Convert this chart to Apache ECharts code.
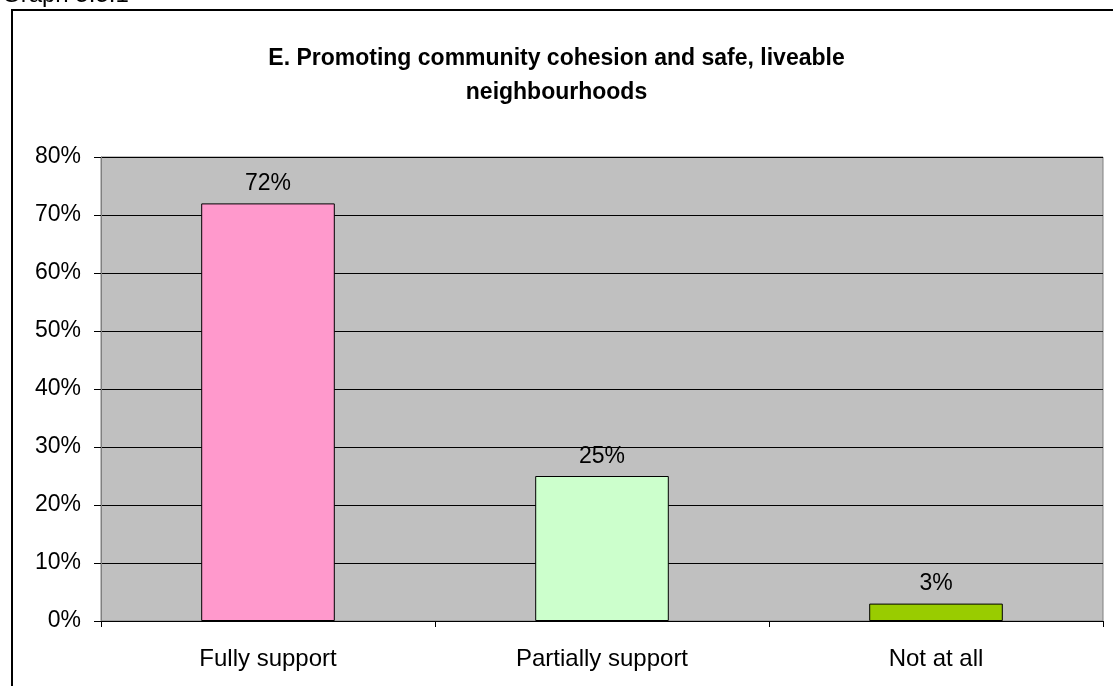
<!DOCTYPE html>
<html>
<head>
<meta charset="utf-8">
<script src="https://cdn.jsdelivr.net/npm/echarts@6/dist/echarts.min.js"></script>
<style>
  html, body { margin: 0; padding: 0; background: #fff; }
  #chart { width: 1113px; height: 686px; }
</style>
</head>
<body>
<div id="chart"></div>
<script>
// Survey responses for section E
const categories = ['Fully support', 'Partially support', 'Not at all'];
const shares = [72, 25, 3];
const barColors = ['#ff99cc', '#ccffcc', '#99cc00'];
const yTicks = [0, 10, 20, 30, 40, 50, 60, 70, 80];

const titleText = 'E. Promoting community cohesion and safe, liveable\nneighbourhoods';
const captionText = 'Graph 5.5.1';

const font = 'Arial, "Liberation Sans", sans-serif';

const chart = echarts.init(document.getElementById('chart'), null, { renderer: 'canvas' });

chart.setOption({
  animation: false,
  backgroundColor: '#ffffff',
  title: {
    text: titleText,
    left: 'center',
    top: 37,
    textStyle: { fontFamily: font, fontSize: 23, fontWeight: 'bold', color: '#000', lineHeight: 34 }
  },
  graphic: [
    {
      type: 'text',
      left: 2,
      top: -17,
      style: { text: captionText, font: '24px ' + font, fill: '#000' }
    },
    {
      type: 'rect',
      shape: { x: 12, y: 10, width: 1130, height: 700 },
      style: { fill: 'none', stroke: '#000', lineWidth: 2 },
      z: 10
    }
  ],
  grid: {
    left: 101, right: 10, top: 157, bottom: 65,
    show: true,
    backgroundColor: '#c0c0c0',
    borderColor: '#808080',
    borderWidth: 1
  },
  xAxis: {
    type: 'category',
    data: categories,
    axisLine: { lineStyle: { color: '#000', width: 1 } },
    axisTick: { show: true, length: 6, lineStyle: { color: '#000' } },
    axisLabel: { fontFamily: font, fontSize: 24, color: '#000', margin: 26 }
  },
  yAxis: {
    type: 'value',
    min: yTicks[0],
    max: yTicks[yTicks.length - 1],
    interval: 10,
    axisLine: { show: true, lineStyle: { color: '#808080' } },
    axisTick: { show: true, length: 7, lineStyle: { color: '#000' } },
    axisLabel: { fontFamily: font, fontSize: 23, color: '#000', margin: 20, formatter: '{value}%' },
    splitLine: { show: true, lineStyle: { color: '#000', width: 1 } }
  },
  series: [{
    type: 'bar',
    data: shares.map((v, i) => ({ value: v, itemStyle: { color: barColors[i] } })),
    barWidth: '40%',
    itemStyle: { borderColor: '#000', borderWidth: 1 },
    label: {
      show: true,
      position: 'top',
      distance: 8,
      formatter: '{c}%',
      fontFamily: font,
      fontSize: 23,
      color: '#000'
    }
  }]
});
</script>
</body>
</html>
